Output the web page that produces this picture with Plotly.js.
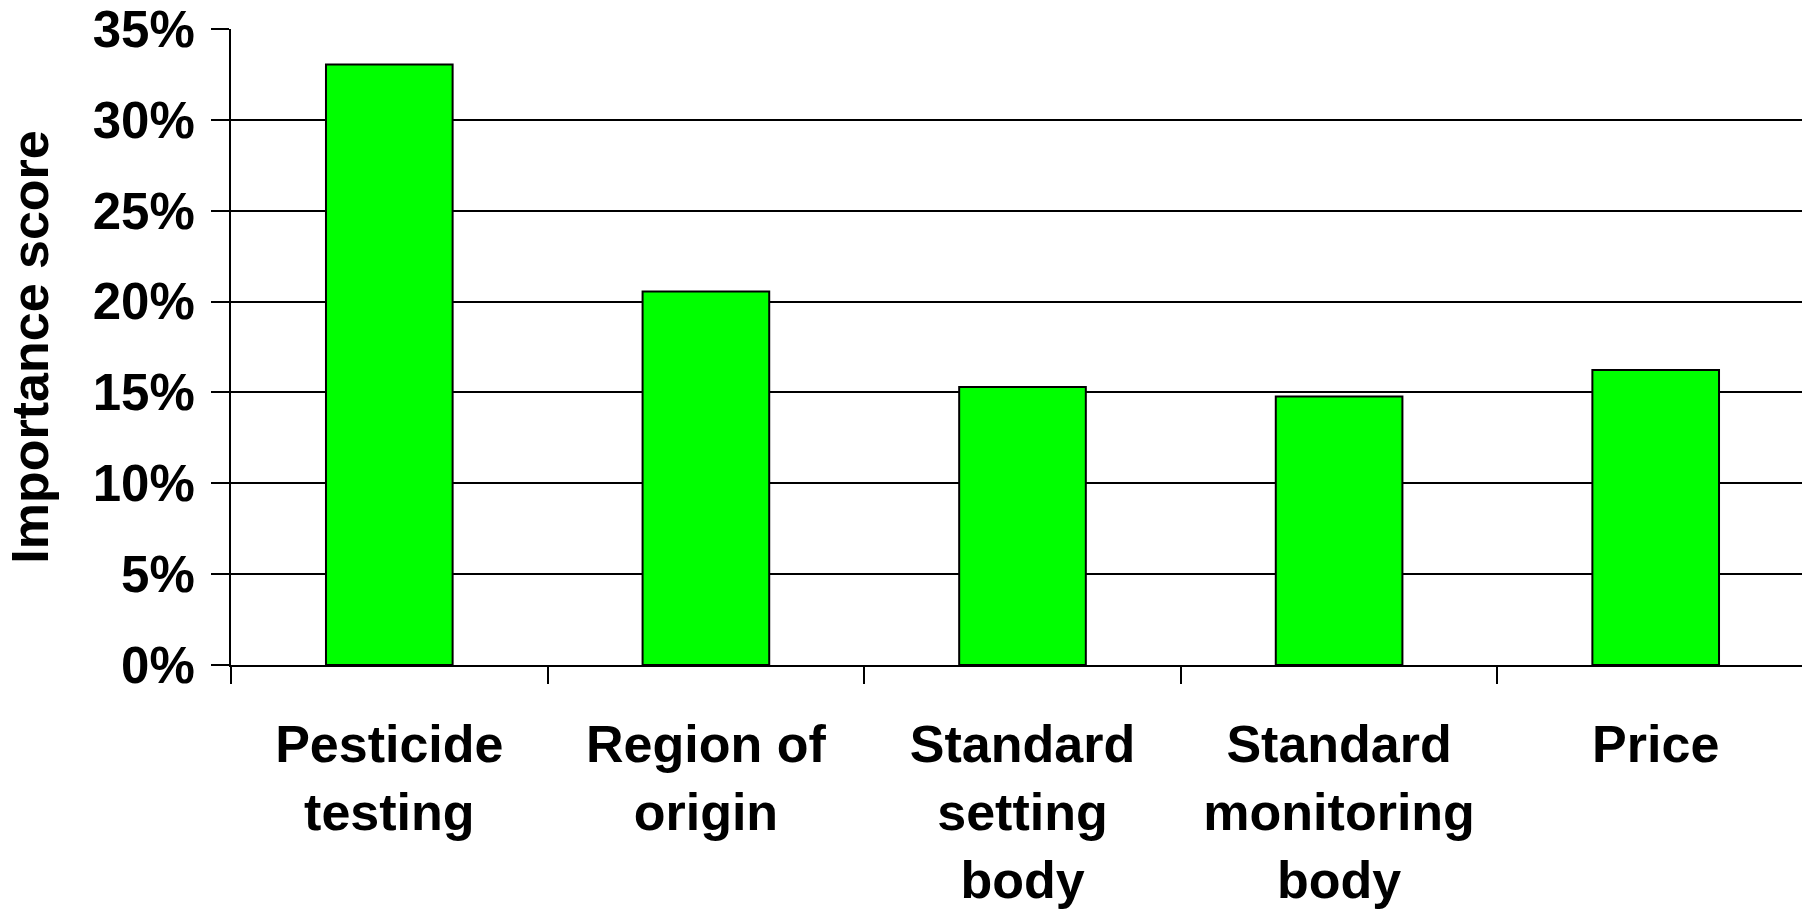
<!DOCTYPE html>
<html>
<head>
<meta charset="utf-8">
<script src="https://cdn.plot.ly/plotly-3.0.1.min.js"></script>
<style>
html, body { margin: 0; padding: 0; overflow: hidden; background: #fff; }
#chart { width: 1814px; height: 910px; }
</style>
</head>
<body>
<div id="chart"></div>
<script>
const categories = [
  "Pesticide<br>testing",
  "Region of<br>origin",
  "Standard<br>setting<br>body",
  "Standard<br>monitoring<br>body",
  "Price"
];
const importance = [0.3304, 0.2056, 0.1530, 0.1478, 0.1624];
const yTickVals = [0, 0.05, 0.10, 0.15, 0.20, 0.25, 0.30, 0.35];
const yTitle = "Importance score";

const FONT = "Liberation Sans, Arial, sans-serif";

const trace = {
  type: "bar",
  x: categories,
  y: importance,
  marker: { color: "#00FF00", line: { color: "#000000", width: 2 } },
  hoverinfo: "x+y"
};

const layout = {
  width: 1814,
  height: 910,
  margin: { l: 231, r: 0, t: 29, b: 245, pad: 0 },
  paper_bgcolor: "#ffffff",
  plot_bgcolor: "#ffffff",
  bargap: 0.6,
  showlegend: false,
  font: { family: FONT, color: "#000000" },
  xaxis: {
    type: "category",
    range: [-0.5, 4.5],
    tickson: "boundaries",
    ticks: "outside",
    ticklen: 17,
    tickwidth: 2,
    tickcolor: "#000000",
    showline: true,
    linecolor: "#000000",
    linewidth: 2,
    showgrid: false,
    zeroline: false,
    ticklabelstandoff: 33,
    tickfont: { family: FONT, size: 52, color: "#000000", weight: "bold" },
    tickangle: 0,
    automargin: false
  },
  yaxis: {
    range: [0, 0.35],
    tickvals: yTickVals,
    tickformat: ".0%",
    ticks: "outside",
    ticklen: 18,
    tickwidth: 2,
    tickcolor: "#000000",
    showline: true,
    linecolor: "#000000",
    linewidth: 2,
    showgrid: true,
    gridcolor: "#000000",
    gridwidth: 2,
    zeroline: false,
    ticklabelstandoff: 6,
    tickfont: { family: FONT, size: 51, color: "#000000", weight: "bold" },
    title: { text: yTitle, font: { family: FONT, size: 52, color: "#000000", weight: "bold" }, standoff: 28 },
    automargin: false
  }
};

Plotly.newPlot("chart", [trace], layout, { displayModeBar: false, staticPlot: true });
</script>
</body>
</html>
